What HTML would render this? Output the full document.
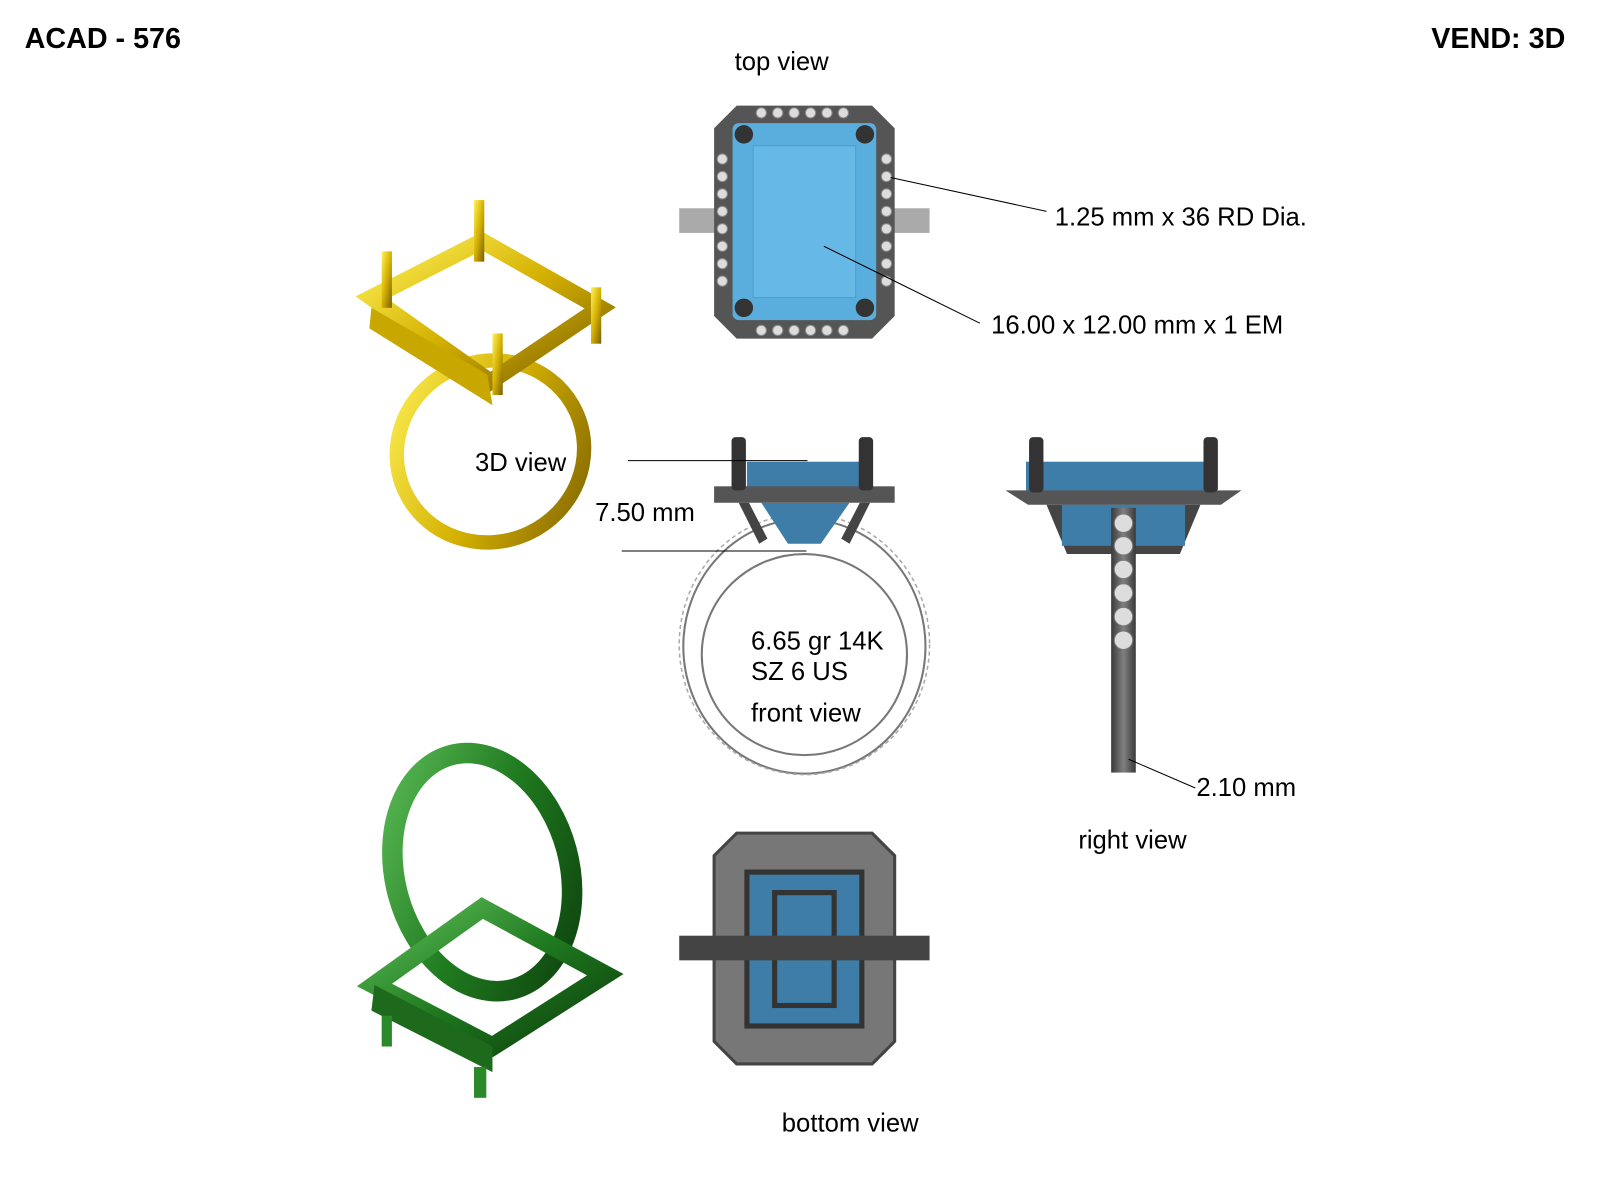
<!DOCTYPE html>
<html><head><meta charset="utf-8"><style>
body{margin:0;background:#fff;width:1600px;height:1200px;overflow:hidden;font-family:"Liberation Sans",sans-serif}
svg{position:absolute;left:0;top:0}
</style></head><body>
<svg width="1600" height="1200" viewBox="0 0 1600 1200" font-family="Liberation Sans, sans-serif">
<defs>
<linearGradient id="gold" x1="0" y1="0" x2="1" y2="1"><stop offset="0" stop-color="#fff35a"/><stop offset=".5" stop-color="#d4b000"/><stop offset="1" stop-color="#7a5f00"/></linearGradient>
<linearGradient id="green" x1="0" y1="0" x2="1" y2="1"><stop offset="0" stop-color="#5fbf5a"/><stop offset=".5" stop-color="#1f7a1f"/><stop offset="1" stop-color="#0c3d0c"/></linearGradient>
<linearGradient id="gray" x1="0" y1="0" x2="1" y2="0"><stop offset="0" stop-color="#3a3a3a"/><stop offset=".5" stop-color="#808080"/><stop offset="1" stop-color="#3a3a3a"/></linearGradient>
</defs>
<g transform="scale(1.026)">
<text x="24" y="47" font-size="28" font-weight="bold">ACAD - 576</text>
<text x="1395" y="47" font-size="28" font-weight="bold">VEND: 3D</text>
<text x="716" y="68" font-size="25">top view</text>

<rect x="662" y="203" width="244" height="24" fill="#aaa"/>
<polygon points="718,103 850,103 872,125 872,308 850,330 718,330 696,308 696,125" fill="#555"/>
<rect x="714" y="120" width="140" height="192" rx="6" fill="#5aaedd"/>
<rect x="734" y="142" width="100" height="148" fill="#66b8e6" stroke="#4a9fcf"/>
<circle cx="725" cy="131" r="9" fill="#333"/><circle cx="843" cy="131" r="9" fill="#333"/>
<circle cx="725" cy="300" r="9" fill="#333"/><circle cx="843" cy="300" r="9" fill="#333"/>
<g fill="#ddd" stroke="#888">
<circle cx="742" cy="110" r="5"/><circle cx="758" cy="110" r="5"/><circle cx="774" cy="110" r="5"/><circle cx="790" cy="110" r="5"/><circle cx="806" cy="110" r="5"/><circle cx="822" cy="110" r="5"/>
<circle cx="742" cy="322" r="5"/><circle cx="758" cy="322" r="5"/><circle cx="774" cy="322" r="5"/><circle cx="790" cy="322" r="5"/><circle cx="806" cy="322" r="5"/><circle cx="822" cy="322" r="5"/>
<circle cx="704" cy="155" r="5"/><circle cx="704" cy="172" r="5"/><circle cx="704" cy="189" r="5"/><circle cx="704" cy="206" r="5"/><circle cx="704" cy="223" r="5"/><circle cx="704" cy="240" r="5"/><circle cx="704" cy="257" r="5"/><circle cx="704" cy="274" r="5"/>
<circle cx="864" cy="155" r="5"/><circle cx="864" cy="172" r="5"/><circle cx="864" cy="189" r="5"/><circle cx="864" cy="206" r="5"/><circle cx="864" cy="223" r="5"/><circle cx="864" cy="240" r="5"/><circle cx="864" cy="257" r="5"/><circle cx="864" cy="274" r="5"/>
</g>
<line x1="868" y1="173" x2="1020" y2="206" stroke="#000"/>
<line x1="803" y1="240" x2="955" y2="315" stroke="#000"/>
<text x="1028" y="220" font-size="25">1.25 mm x 36  RD Dia.</text>
<text x="966" y="325" font-size="25">16.00 x 12.00 mm x 1 EM</text>

<ellipse cx="478" cy="440" rx="92" ry="88" fill="none" stroke="url(#gold)" stroke-width="14" transform="rotate(-25 478 440)"/>
<polygon points="362,290 470,235 585,300 478,372" fill="none" stroke="url(#gold)" stroke-width="16"/>
<polygon points="362,300 475,365 480,395 360,320" fill="#c8a800"/>
<rect x="462" y="195" width="10" height="60" fill="url(#gold)"/><rect x="372" y="245" width="10" height="55" fill="url(#gold)"/>
<rect x="576" y="280" width="10" height="55" fill="url(#gold)"/><rect x="480" y="325" width="10" height="60" fill="url(#gold)"/>
<text x="463" y="459" font-size="25">3D view</text>

<ellipse cx="784" cy="630" rx="118" ry="124" fill="none" stroke="#777" stroke-width="2"/>
<ellipse cx="784" cy="638" rx="100" ry="98" fill="none" stroke="#777" stroke-width="2"/>
<ellipse cx="784" cy="628" rx="122" ry="127" fill="none" stroke="#aaa" stroke-width="1.5" stroke-dasharray="4 3"/>
<rect x="728" y="450" width="110" height="28" fill="#3d7da8"/>
<polygon points="742,490 828,490 800,530 768,530" fill="#3d7da8"/>
<rect x="696" y="474" width="176" height="16" fill="#555"/>
<rect x="713" y="426" width="14" height="52" rx="4" fill="#333"/><rect x="837" y="426" width="14" height="52" rx="4" fill="#333"/>
<path d="M730,490 L748,525 L740,530 L720,490Z M838,490 L820,525 L828,530 L848,490Z" fill="#444"/>
<line x1="612" y1="449" x2="787" y2="449" stroke="#000"/>
<line x1="606" y1="537" x2="786" y2="537" stroke="#000"/>
<text x="580" y="508" font-size="25">7.50 mm</text>
<text x="732" y="633" font-size="25">6.65 gr 14K</text>
<text x="732" y="663" font-size="25">SZ 6 US</text>
<text x="732" y="703" font-size="25">front view</text>

<rect x="1000" y="450" width="176" height="30" fill="#3d7da8"/>
<polygon points="980,478 1210,478 1190,492 1002,492" fill="#555"/>
<polygon points="1020,492 1170,492 1150,540 1040,540" fill="#444"/>
<rect x="1035" y="492" width="120" height="40" fill="#3d7da8"/>
<rect x="1003" y="426" width="14" height="54" rx="4" fill="#333"/><rect x="1173" y="426" width="14" height="54" rx="4" fill="#333"/>
<rect x="1083" y="495" width="24" height="258" fill="url(#gray)"/>
<g fill="#ddd" stroke="#777"><circle cx="1095" cy="510" r="9"/><circle cx="1095" cy="532" r="9"/><circle cx="1095" cy="555" r="9"/><circle cx="1095" cy="578" r="9"/><circle cx="1095" cy="601" r="9"/><circle cx="1095" cy="624" r="9"/></g>
<line x1="1100" y1="740" x2="1165" y2="768" stroke="#000"/>
<text x="1166" y="776" font-size="25">2.10 mm</text>
<text x="1051" y="827" font-size="25">right view</text>

<ellipse cx="470" cy="850" rx="85" ry="118" fill="none" stroke="url(#green)" stroke-width="20" transform="rotate(-15 470 850)"/>
<polygon points="365,960 470,885 590,950 480,1020" fill="none" stroke="url(#green)" stroke-width="18"/>
<polygon points="365,960 480,1020 480,1045 362,985" fill="#1d6a1d"/>
<rect x="462" y="1040" width="12" height="30" fill="#2a8a2a"/><rect x="372" y="990" width="10" height="30" fill="#2a8a2a"/>

<polygon points="718,812 850,812 872,834 872,1015 850,1037 718,1037 696,1015 696,834" fill="#777" stroke="#444" stroke-width="3"/>
<rect x="728" y="850" width="112" height="150" fill="#3d7da8" stroke="#333" stroke-width="5"/>
<rect x="755" y="870" width="58" height="110" fill="#3d7da8" stroke="#333" stroke-width="5"/>
<rect x="662" y="912" width="244" height="24" fill="#444"/>
<text x="762" y="1103" font-size="25">bottom view</text>
</g>
</svg>
</body></html>
